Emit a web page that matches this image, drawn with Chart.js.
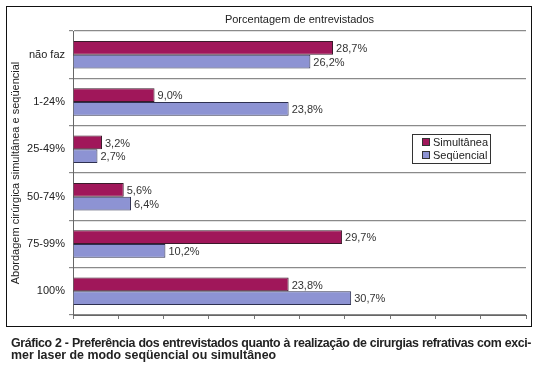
<!DOCTYPE html>
<html>
<head>
<meta charset="utf-8">
<script src="https://cdn.jsdelivr.net/npm/chart.js@4/dist/chart.umd.min.js"></script>
<style>
  html, body { margin: 0; padding: 0; background: #fff; }
  #wrap { position: absolute; left: 0; top: 0; width: 539px; height: 330px; }
  #frame { position: absolute; left: 6px; top: 6px; width: 526px; height: 321px;
           border: 1.5px solid #111; box-sizing: border-box; pointer-events: none; }
  #caption { position: absolute; left: 11px; top: 337px; width: 520px;
             font: bold 12.4px "Liberation Sans", Arial, sans-serif; color: #222; line-height: 12px; }
  #caption .l1 { text-align: justify; text-align-last: justify; white-space: nowrap;
                 letter-spacing: -0.4px; word-spacing: -1px; }
</style>
</head>
<body>
<div id="wrap"><canvas id="chart" width="539" height="330"></canvas></div>
<div id="frame"></div>
<div id="caption">
  <div class="l1">Gráfico 2 - Preferência dos entrevistados quanto à realização de cirurgias refrativas com exci-</div>
  <div>mer laser de modo seqüencial ou simultâneo</div>
</div>
<script>
// dados do gráfico
const categories = ['não faz', '1-24%', '25-49%', '50-74%', '75-99%', '100%'];
const simultanea = [28.7, 9.0, 3.2, 5.6, 29.7, 23.8];
const sequencial = [26.2, 23.8, 2.7, 6.4, 10.2, 30.7];
const seriesNames = ['Simultânea', 'Seqüencial'];
const chartTitle = 'Porcentagem de entrevistados';
const axisTitle = 'Abordagem cirúrgica simultânea e seqüencial';

const FONT = '"Liberation Sans", Arial, sans-serif';
const fmt = v => v.toFixed(1).replace('.', ',') + '%';

// rótulos de valor ao lado das barras
const valueLabels = {
  id: 'valueLabels',
  afterDatasetsDraw(chart) {
    const ctx = chart.ctx;
    ctx.save();
    ctx.font = '11px ' + FONT;
    ctx.fillStyle = '#333';
    ctx.textBaseline = 'middle';
    chart.data.datasets.forEach((ds, i) => {
      chart.getDatasetMeta(i).data.forEach((bar, j) => {
        ctx.fillText(fmt(ds.data[j]), bar.x + 3, bar.y + 1);
      });
    });
    ctx.restore();
  }
};

// título e legenda desenhados dentro da área
const extras = {
  id: 'extras',
  afterDraw(chart) {
    const ctx = chart.ctx;
    const a = chart.chartArea;
    ctx.save();
    ctx.font = '11px ' + FONT;
    ctx.fillStyle = '#222';
    ctx.textAlign = 'center';
    ctx.textBaseline = 'middle';
    ctx.fillText(chartTitle, (a.left + a.right) / 2, 20);

    // legenda
    const bx = a.right - 114, by = a.top + 103, bw = 78, bh = 29;
    ctx.fillStyle = '#fff';
    ctx.fillRect(bx, by, bw, bh);
    ctx.strokeStyle = '#333';
    ctx.lineWidth = 1;
    ctx.strokeRect(bx + 0.5, by + 0.5, bw, bh);
    ctx.textAlign = 'left';
    chart.data.datasets.forEach((ds, i) => {
      const y = by + 8 + i * 13;
      ctx.fillStyle = ds.backgroundColor;
      ctx.fillRect(bx + 10, y - 4, 8, 8);
      ctx.strokeStyle = '#333';
      ctx.strokeRect(bx + 10.5, y - 3.5, 7, 7);
      ctx.fillStyle = '#222';
      ctx.fillText(ds.label, bx + 21, y + 0.5);
    });
    ctx.restore();
  }
};

new Chart('chart', {
  type: 'bar',
  data: {
    labels: categories,
    datasets: [{
      label: seriesNames[0],
      data: simultanea,
      backgroundColor: '#a0175a',
      borderColor: '#3a1a2a',
      borderWidth: 1,
      categoryPercentage: 0.58,
      barPercentage: 1.0
    }, {
      label: seriesNames[1],
      data: sequencial,
      backgroundColor: '#8d93d3',
      borderColor: '#2e3050',
      borderWidth: 1,
      categoryPercentage: 0.58,
      barPercentage: 1.0
    }]
  },
  options: {
    indexAxis: 'y',
    responsive: false,
    animation: false,
    layout: { padding: { top: 31, right: 13, left: 0, bottom: 0 } },
    plugins: {
      legend: { display: false },
      title: { display: false },
      tooltip: { enabled: false }
    },
    scales: {
      x: {
        min: 0,
        max: 50,
        ticks: { stepSize: 5, display: false },
        grid: { drawOnChartArea: false, drawTicks: true, tickLength: 4, color: '#777' },
        border: { display: true, color: '#666', width: 1 },
        afterFit: s => { s.height = 15; }
      },
      y: {
        ticks: { color: '#222', font: { family: FONT, size: 11 }, padding: 4 },
        grid: { color: '#8a8a8a', lineWidth: 1.2, tickLength: 4, offset: true },
        border: { display: true, color: '#666', width: 1 },
        title: {
          display: true,
          text: axisTitle,
          color: '#222',
          font: { family: FONT, size: 11 },
          padding: { top: 9, bottom: 0 }
        },
        afterFit: s => { s.width = 73; }
      }
    }
  },
  plugins: [valueLabels, extras]
});
</script>
</body>
</html>
